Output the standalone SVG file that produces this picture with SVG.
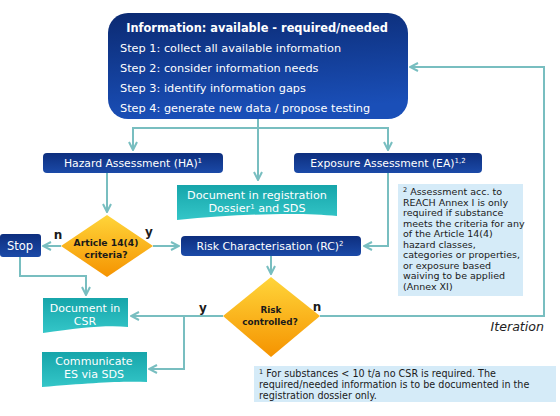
<svg xmlns="http://www.w3.org/2000/svg" width="560" height="416" viewBox="0 0 560 416">
<defs>
<linearGradient id="gTop" x1="0" y1="0" x2="0.2" y2="1">
<stop offset="0" stop-color="#0b2a72"/>
<stop offset="1" stop-color="#1a4fb8"/>
</linearGradient>
<linearGradient id="gBlue" x1="0" y1="0" x2="0" y2="1">
<stop offset="0" stop-color="#0d2e7e"/>
<stop offset="1" stop-color="#1b4aa8"/>
</linearGradient>
<linearGradient id="gTeal" x1="0" y1="0" x2="0" y2="1">
<stop offset="0" stop-color="#16a5aa"/>
<stop offset="1" stop-color="#34c6c8"/>
</linearGradient>
<linearGradient id="gDia" x1="0" y1="0" x2="0" y2="1">
<stop offset="0" stop-color="#ffd53a"/>
<stop offset="1" stop-color="#f59300"/>
</linearGradient>
<marker id="ah" viewBox="0 0 10 10" refX="9" refY="5" markerWidth="10" markerHeight="10" markerUnits="userSpaceOnUse" orient="auto">
<path d="M1,1 L9,5 L1,9" fill="none" stroke="#78bec0" stroke-width="2"/>
</marker>
<style>
.c{fill:none;stroke:#78bec0;stroke-width:2}
.w{fill:#ffffff;font-family:Verdana,"DejaVu Sans",sans-serif}
.d{fill:#1a1a1a;font-family:Verdana,"DejaVu Sans",sans-serif}
.note{fill:#d5ebf8}
</style>
</defs>
<rect width="560" height="416" fill="#ffffff"/>

<g id="connectors">
<path class="c" d="M258,119 V128 H133 V150" marker-end="url(#ah)"/>
<path class="c" d="M258,128 H388 V150" marker-end="url(#ah)"/>
<path class="c" d="M258,128 V180" marker-end="url(#ah)"/>
<path class="c" d="M107,173 V212" marker-end="url(#ah)"/>
<path class="c" d="M61,246 H43" marker-end="url(#ah)"/>
<path class="c" d="M153,246 H179" marker-end="url(#ah)"/>
<path class="c" d="M388,173 V246 H364" marker-end="url(#ah)"/>
<path class="c" d="M271,256 V274" marker-end="url(#ah)"/>
<path class="c" d="M20,257 V276 H86 V295" marker-end="url(#ah)"/>
<path class="c" d="M223,316 H131" marker-end="url(#ah)"/>
<path class="c" d="M184,316 V369 H149" marker-end="url(#ah)"/>
<path class="c" d="M320,316 H544 V67 H410" marker-end="url(#ah)"/>
<text class="d" x="58" y="239" font-size="12" font-weight="bold" text-anchor="middle">n</text>
<text class="d" x="149" y="236" font-size="12" font-weight="bold" text-anchor="middle">y</text>
<text class="d" x="203" y="312" font-size="12" font-weight="bold" text-anchor="middle">y</text>
<text class="d" x="317" y="311" font-size="12" font-weight="bold" text-anchor="middle">n</text>
<text x="544" y="331" font-size="12.6" font-style="italic" text-anchor="end" fill="#222222" font-family="Verdana,'DejaVu Sans',sans-serif">Iteration</text>
</g>

<g id="info">
<rect x="108" y="13" width="300" height="106" rx="20" fill="url(#gTop)"/>
<text class="w" x="257" y="32" font-size="11.4" font-weight="bold" text-anchor="middle">Information: available - required/needed</text>
<text class="w" x="120" y="52" font-size="11.3">Step 1: collect all available information</text>
<text class="w" x="120" y="72" font-size="11.3">Step 2: consider information needs</text>
<text class="w" x="120" y="92" font-size="11.3">Step 3: identify information gaps</text>
<text class="w" x="120" y="112" font-size="11.3">Step 4: generate new data / propose testing</text>
</g>

<g id="ha">
<rect x="43" y="153" width="180" height="20" rx="4" fill="url(#gBlue)"/>
<text class="w" x="133" y="167" font-size="10.8" text-anchor="middle">Hazard Assessment (HA)<tspan font-size="7" dy="-4">1</tspan></text>
</g>

<g id="ea">
<rect x="294" y="153" width="188" height="20" rx="4" fill="url(#gBlue)"/>
<text class="w" x="388" y="167" font-size="10.8" text-anchor="middle">Exposure Assessment (EA)<tspan font-size="7" dy="-4">1,2</tspan></text>
</g>

<g id="docreg">
<path d="M177,185 H337 V216 C300,212 240,214 177,220 Z" fill="url(#gTeal)"/>
<text class="w" x="257" y="199" font-size="11.2" text-anchor="middle">Document in registration</text>
<text class="w" x="257" y="212" font-size="11.2" text-anchor="middle">Dossier<tspan font-size="7" dy="-3">1</tspan><tspan dy="3"> and SDS</tspan></text>
</g>

<g id="note2">
<rect class="note" x="398" y="184" width="125" height="112"/>
<g class="d" font-size="9.5">
<text x="403" y="195"><tspan font-size="6.5" dy="-3">2</tspan><tspan dy="3"> Assessment acc. to</tspan></text>
<text x="403" y="206">REACH Annex I is only</text>
<text x="403" y="216">required if substance</text>
<text x="403" y="227">meets the criteria for any</text>
<text x="403" y="237">of the Article 14(4)</text>
<text x="403" y="248">hazard classes,</text>
<text x="403" y="258">categories or properties,</text>
<text x="403" y="269">or exposure based</text>
<text x="403" y="279">waiving to be applied</text>
<text x="403" y="290">(Annex XI)</text>
</g>
</g>

<g id="article">
<polygon points="107,215 153,246 107,277 61,246" fill="url(#gDia)"/>
<text class="d" x="106" y="246" font-size="9.2" font-weight="bold" text-anchor="middle">Article 14(4)</text>
<text class="d" x="106" y="258" font-size="9.2" font-weight="bold" text-anchor="middle">criteria?</text>
</g>

<g id="stop">
<rect x="0" y="234" width="41" height="23" rx="3" fill="url(#gBlue)"/>
<text class="w" x="20" y="250" font-size="11.5" text-anchor="middle">Stop</text>
</g>

<g id="rc">
<rect x="181" y="236" width="180" height="20" rx="4" fill="url(#gBlue)"/>
<text class="w" x="270" y="250" font-size="10.9" text-anchor="middle">Risk Characterisation (RC)<tspan font-size="7" dy="-4">2</tspan></text>
</g>

<g id="risk">
<polygon points="271,277 320,316 271,357 223,316" fill="url(#gDia)"/>
<text class="d" x="271" y="313" font-size="8.8" font-weight="bold" text-anchor="middle">Risk</text>
<text class="d" x="270" y="325" font-size="8.8" font-weight="bold" text-anchor="middle">controlled?</text>
</g>

<g id="doccsr">
<path d="M43,298 H128 V327 C105,325 80,328 43,333 Z" fill="url(#gTeal)"/>
<text class="w" x="85" y="312" font-size="11" text-anchor="middle">Document in</text>
<text class="w" x="85" y="325" font-size="11" text-anchor="middle">CSR</text>
</g>

<g id="communicate">
<path d="M42,352 H147 V382 C120,381 90,383 42,387 Z" fill="url(#gTeal)"/>
<text class="w" x="94" y="365" font-size="11.1" text-anchor="middle">Communicate</text>
<text class="w" x="94" y="378" font-size="11.1" text-anchor="middle">ES via SDS</text>
</g>

<g id="note1">
<rect class="note" x="254" y="366" width="302" height="36"/>
<g class="d" font-size="9.6">
<text x="259" y="377"><tspan font-size="6.5" dy="-3">1</tspan><tspan dy="3"> For substances &lt; 10 t/a no CSR is required. The</tspan></text>
<text x="259" y="388">required/needed information is to be documented in the</text>
<text x="259" y="399">registration dossier only.</text>
</g>
</g>
</svg>
